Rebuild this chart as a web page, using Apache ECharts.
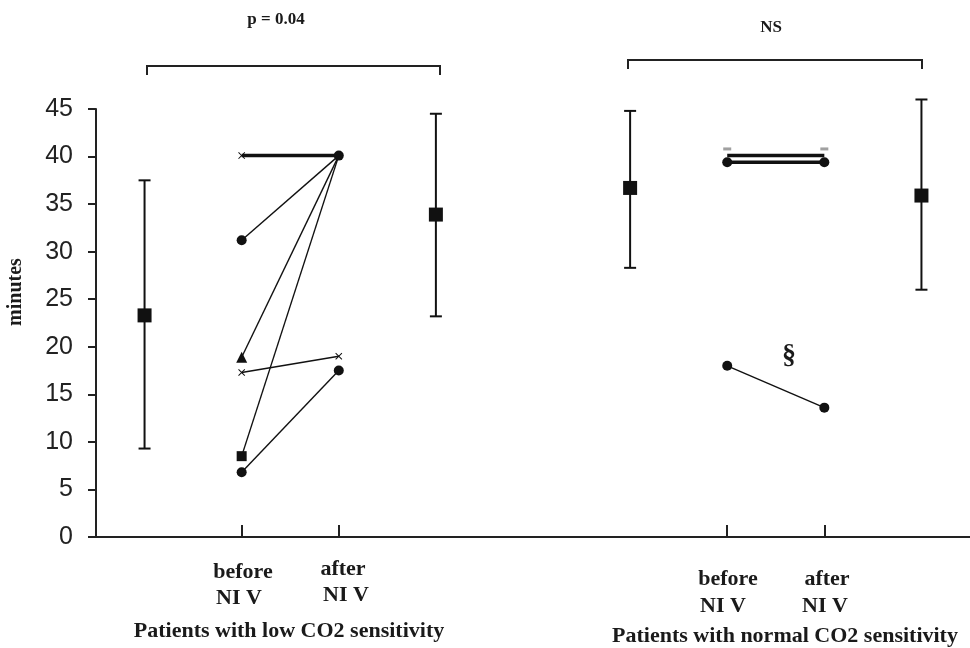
<!DOCTYPE html>
<html>
<head>
<meta charset="utf-8">
<script src="https://cdn.jsdelivr.net/npm/echarts@6/dist/echarts.min.js"></script>
<style>
  html, body { margin: 0; padding: 0; background: #fff; }
  #chart { width: 970px; height: 648px; }
</style>
</head>
<body>
<div id="chart"></div>
<script>
// x positions (axis units) of the columns
var beforeLowX = 1.5
var afterLowX = 2.5
var beforeNormX = 6.5
var afterNormX = 7.5

// mean +/- range for each group
var meanX = [0.5, 3.5, 5.5, 8.5]
var meanVals = [23.3, 33.9, 36.7, 35.9]
var lowVals = [9.3, 23.2, 28.3, 26.0]
var highVals = [37.5, 44.5, 44.8, 46.0]

// paired patients, low CO2 sensitivity
var lowBefore = [40.1, 31.2, 18.9, 8.5, 6.8, 17.3]
var lowAfter = [40.1, 40.1, 40.1, 40.1, 17.5, 19.0]
var lowSymBefore = ['cross', 'circle', 'triangle', 'rect', 'circle', 'cross']
var lowSymAfter = ['circle', 'none', 'none', 'none', 'circle', 'cross']

// paired patients, normal CO2 sensitivity
var normBefore = [40.1, 39.4, 18.0]
var normAfter = [40.1, 39.4, 13.6]
var normSym = ['none', 'circle', 'circle']

var xTicks = [beforeLowX, afterLowX, beforeNormX, afterNormX]

var crossPath = 'path://M0,1L1,0L5,4L9,0L10,1L6,5L10,9L9,10L5,6L1,10L0,9L4,5Z'
function sym(s) { return s === 'cross' ? crossPath : s }

var chart = echarts.init(document.getElementById('chart'))

var series = []

// error bars with square mean marker
series.push({
  type: 'custom',
  clip: false,
  data: meanX.map(function(x, i) { return [x, meanVals[i], lowVals[i], highVals[i]] }),
  renderItem: function(params, api) {
    var m = api.coord([api.value(0), api.value(1)])
    var lo = api.coord([api.value(0), api.value(2)])
    var hi = api.coord([api.value(0), api.value(3)])
    var st = { stroke: '#111', lineWidth: 2 }
    return {
      type: 'group',
      children: [
        { type: 'line', shape: { x1: lo[0], y1: lo[1], x2: hi[0], y2: hi[1] }, style: st },
        { type: 'line', shape: { x1: lo[0] - 6, y1: lo[1], x2: lo[0] + 6, y2: lo[1] }, style: st },
        { type: 'line', shape: { x1: hi[0] - 6, y1: hi[1], x2: hi[0] + 6, y2: hi[1] }, style: st },
        { type: 'rect', shape: { x: m[0] - 7, y: m[1] - 7, width: 14, height: 14 }, style: { fill: '#111' } }
      ]
    }
  }
})

lowBefore.forEach(function(v, i) {
  series.push({
    type: 'line',
    data: [
      { value: [beforeLowX, v], symbol: sym(lowSymBefore[i]) },
      { value: [afterLowX, lowAfter[i]], symbol: sym(lowSymAfter[i]) }
    ],
    symbolSize: function(val, p) {
      var s = p.dataIndex === 0 ? lowSymBefore[i] : lowSymAfter[i]
      return s === 'cross' ? 7 : (s === 'triangle' ? 11 : 10)
    },
    lineStyle: { color: '#111', width: i === 0 ? 3.5 : 1.4 },
    itemStyle: { color: '#111' },
    z: i === 0 ? 3 : 2
  })
})

normBefore.forEach(function(v, i) {
  series.push({
    type: 'line',
    data: [[beforeNormX, v], [afterNormX, normAfter[i]]],
    symbol: normSym[i],
    symbolSize: 10,
    lineStyle: { color: '#111', width: i < 2 ? 3.5 : 1.4 },
    itemStyle: { color: '#111' }
  })
})

// small dash marks above the normal-group top line
series.push({
  type: 'scatter',
  data: [[beforeNormX, 40.8], [afterNormX, 40.8]],
  symbol: 'rect',
  symbolSize: [8, 3],
  itemStyle: { color: '#888' }
})

var serif = '"Liberation Serif", "DejaVu Serif", serif'
function label(text, x, y, size) {
  return {
    type: 'text', x: x, y: y,
    style: { text: text, font: 'bold ' + size + 'px ' + serif, fill: '#1a1a1a', align: 'center', verticalAlign: 'middle' }
  }
}

chart.setOption({
  backgroundColor: '#fff',
  animation: false,
  grid: { left: 96, right: 0, top: 109, bottom: 111 },
  xAxis: {
    type: 'value',
    min: 0,
    max: 9,
    splitLine: { show: false },
    axisLine: { lineStyle: { color: '#222', width: 2 } },
    axisTick: { show: true, inside: true, length: 12, customValues: xTicks, lineStyle: { color: '#222', width: 2 } },
    axisLabel: { show: false }
  },
  yAxis: {
    type: 'value',
    min: 0,
    max: 45,
    interval: 5,
    splitLine: { show: false },
    axisLine: { show: true, lineStyle: { color: '#222', width: 2 } },
    axisTick: { show: true, length: 8, lineStyle: { color: '#222', width: 2 } },
    axisLabel: { fontFamily: 'Liberation Sans', fontSize: 25, color: '#222', margin: 23 }
  },
  graphic: [
    { type: 'text', x: 16, y: 292, rotation: Math.PI / 2,
      style: { text: 'minutes', font: 'bold 20px ' + serif, fill: '#1a1a1a', align: 'center', verticalAlign: 'middle' } },
    label('p = 0.04', 276, 20, 17),
    label('NS', 771, 28, 17),
    { type: 'polyline', shape: { points: [[147, 75], [147, 66], [440, 66], [440, 75]] }, style: { stroke: '#222', lineWidth: 2, fill: null } },
    { type: 'polyline', shape: { points: [[628, 69], [628, 60], [922, 60], [922, 69]] }, style: { stroke: '#222', lineWidth: 2, fill: null } },
    label('§', 789, 356, 28),
    label('before', 243, 572, 22),
    label('NI V', 239, 598, 22),
    label('after', 343, 569, 22),
    label('NI V', 346, 595, 22),
    label('Patients with low CO2 sensitivity', 289, 631, 22),
    label('before', 728, 579, 22),
    label('NI V', 723, 606, 22),
    label('after', 827, 579, 22),
    label('NI V', 825, 606, 22),
    label('Patients with normal CO2 sensitivity', 785, 636, 22)
  ],
  series: series
})
</script>
</body>
</html>
